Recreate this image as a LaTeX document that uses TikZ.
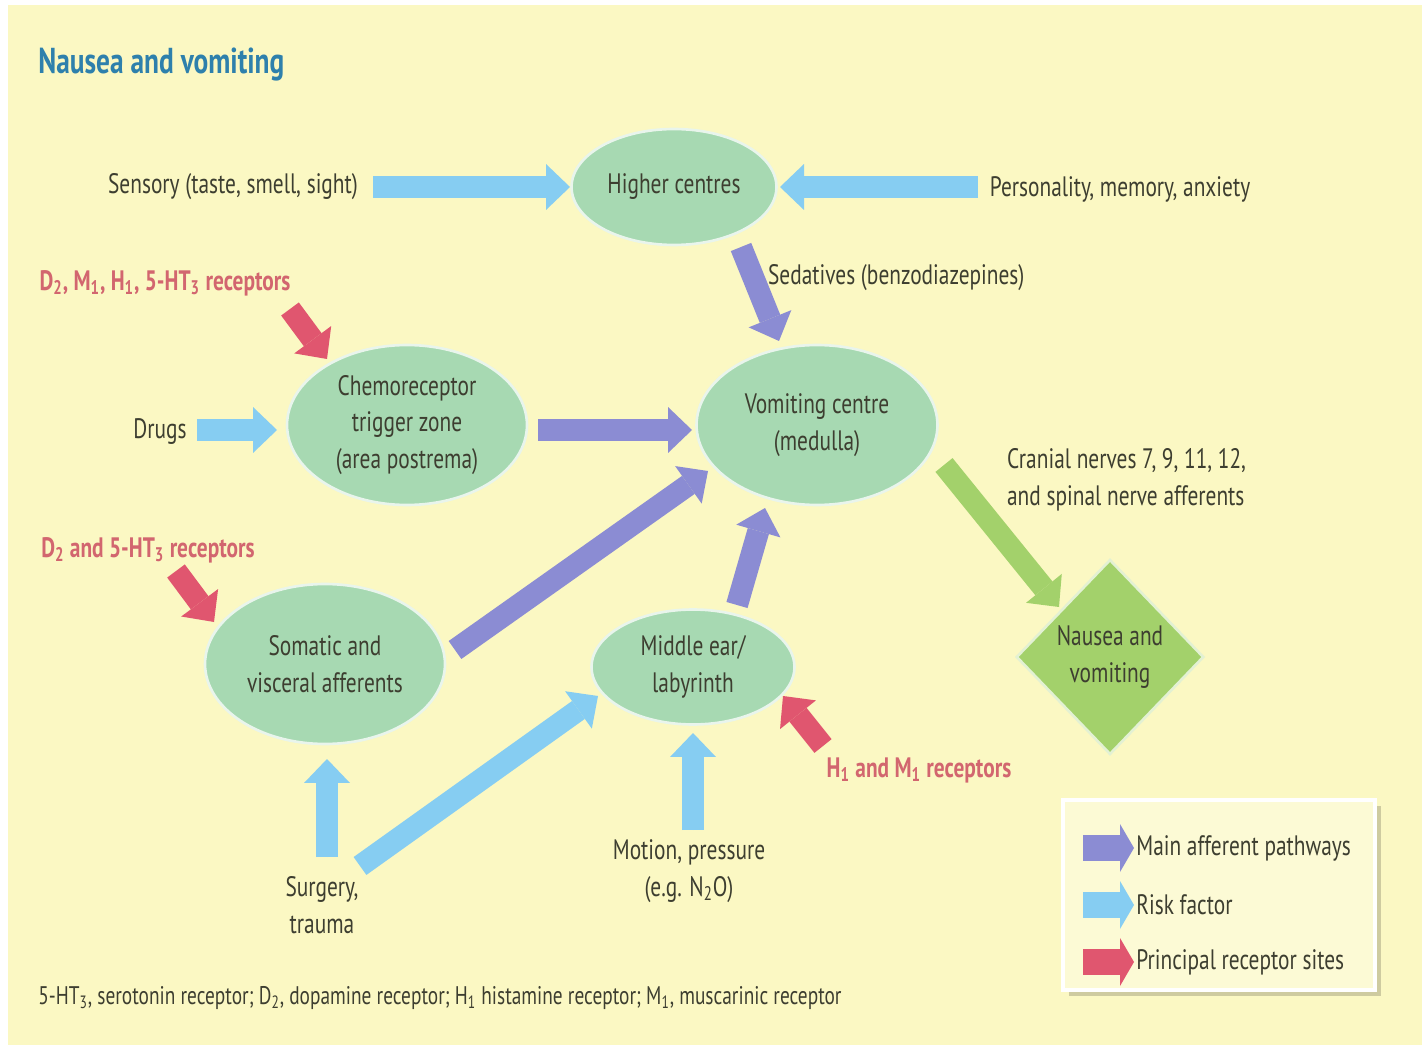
\documentclass[tikz,border=0pt]{standalone}
\usepackage{fontspec}
\setmainfont{PT Sans}[FakeStretch=0.76]
\usetikzlibrary{arrows.meta,shapes.geometric}
\definecolor{bg}{HTML}{FBF8C3}
\definecolor{ellc}{HTML}{A7D9B2}
\definecolor{diac}{HTML}{A3D16B}
\definecolor{purp}{HTML}{8B8CD3}
\definecolor{skyb}{HTML}{86CDF2}
\definecolor{pinkr}{HTML}{E0566F}
\definecolor{txt}{HTML}{3D3E30}
\definecolor{redtxt}{HTML}{D2666F}
\definecolor{ttl}{HTML}{2E80AC}
\tikzset{
  ellnode/.style={ellipse, fill=ellc, draw=white!75!ellc, line width=1.5pt, inner sep=0pt, align=center},
  lbl/.style={align=center, inner sep=1pt},
  redlbl/.style={align=center, inner sep=1pt, text=redtxt, font=\fontsize{16}{20}\selectfont\bfseries},
  fat/.style={line width=0.44cm, -{Triangle[length=0.48cm,width=0.92cm,line width=0pt]}},
  purparrow/.style={fat, draw=purp, fill=purp},
  bluearrow/.style={fat, draw=skyb, fill=skyb},
  redarrow/.style={fat, draw=pinkr, fill=pinkr},
  greenarrow/.style={fat, draw=diac, fill=diac},
  legarrow/.style={line width=0.52cm, -{Triangle[length=0.28cm,width=0.96cm,line width=0pt]}},
}
\begin{document}
\begin{tikzpicture}[x=0.02cm,y=-0.02cm, font=\fontsize{16}{21}\selectfont, text=txt]
\useasboundingbox (0,0) rectangle (1426,1050);
\fill[white] (0,0) rectangle (1426,1050);
\fill[bg] (8,5) rectangle (1422,1045);

% title
\node[anchor=west, text=ttl, font=\fontsize{20.5}{24}\selectfont\bfseries, inner sep=0pt] (title) at (38,65) {Nausea and vomiting};

% main nodes
\node[ellnode, minimum width=4.1cm, minimum height=2.32cm] (hc) at (674,187) {Higher centres};
\node[ellnode, minimum width=4.8cm, minimum height=3.2cm] (ctz) at (407,425) {Chemoreceptor\\trigger zone\\(area postrema)};
\node[ellnode, minimum width=4.82cm, minimum height=3.2cm] (vc) at (817,425) {Vomiting centre\\(medulla)};
\node[ellnode, minimum width=4.8cm, minimum height=3.2cm] (som) at (325,664) {Somatic and\\visceral afferents};
\node[ellnode, minimum width=4.06cm, minimum height=2.3cm] (mer) at (693,667) {Middle ear/\\labyrinth};
\node[diamond, fill=diac, draw=white!70!diac, line width=1.5pt, inner sep=0pt, minimum width=3.75cm, minimum height=3.9cm, align=center] (nv) at (1110,657) {Nausea and\\vomiting};

% labels
\node[lbl] (sens) at (233,187) {Sensory (taste, smell, sight)};
\node[lbl] (pers) at (1120,189) {Personality, memory, anxiety};
\node[redlbl] (rec1) at (165,283) {D\textsubscript{2}, M\textsubscript{1}, H\textsubscript{1}, 5-HT\textsubscript{3} receptors};
\node[lbl, anchor=west] (sed) at (766,278) {Sedatives (benzodiazepines)};
\node[lbl] (drugs) at (160,432) {Drugs};
\node[lbl, anchor=west, align=left] (cran) at (1005,480) {Cranial nerves 7, 9, 11, 12,\\and spinal nerve afferents};
\node[redlbl] (rec2) at (148,550) {D\textsubscript{2} and 5-HT\textsubscript{3} receptors};
\node[redlbl] (rec3) at (919,770) {H\textsubscript{1} and M\textsubscript{1} receptors};
\node[lbl] (motion) at (689,871) {Motion, pressure\\(e.g. N\textsubscript{2}O)};
\node[lbl] (surg) at (322,905) {Surgery,\\trauma};

% footnote
\node[anchor=west, inner sep=0pt, font=\fontsize{14.5}{17}\selectfont] (foot) at (38,998) {5-HT\textsubscript{3}, serotonin receptor; D\textsubscript{2}, dopamine receptor; H\textsubscript{1} histamine receptor; M\textsubscript{1}, muscarinic receptor};

% arrow end coordinates
\coordinate (a1s) at (373,187);  \coordinate (a1e) at (570,187);
\coordinate (a2s) at (978,187);  \coordinate (a2e) at (780,187);
\coordinate (a3s) at (741,247);  \coordinate (a3e) at (779,341);
\coordinate (a4s) at (290,309);  \coordinate (a4e) at (327,359);
\coordinate (a5s) at (197,430);  \coordinate (a5e) at (277,430);
\coordinate (a6s) at (538,430);  \coordinate (a6e) at (692,430);
\coordinate (a7s) at (176,571);  \coordinate (a7e) at (214,622);
\coordinate (a8s) at (455,650);  \coordinate (a8e) at (708,471);
\coordinate (a9s) at (737,605);  \coordinate (a9e) at (765,508);
\coordinate (a10s) at (944,465); \coordinate (a10e) at (1059,607);
\coordinate (a11s) at (823,746); \coordinate (a11e) at (783,696);
\coordinate (a12s) at (327,857); \coordinate (a12e) at (327,759);
\coordinate (a13s) at (360,866); \coordinate (a13e) at (598,696);
\coordinate (a14s) at (693,830); \coordinate (a14e) at (693,733);

\draw[bluearrow] (a1s) -- (a1e);
\draw[bluearrow] (a2s) -- (a2e);
\draw[purparrow] (a3s) -- (a3e);
\draw[redarrow] (a4s) -- (a4e);
\draw[bluearrow] (a5s) -- (a5e);
\draw[purparrow] (a6s) -- (a6e);
\draw[redarrow] (a7s) -- (a7e);
\draw[purparrow] (a8s) -- (a8e);
\draw[purparrow] (a9s) -- (a9e);
\draw[greenarrow] (a10s) -- (a10e);
\draw[redarrow] (a11s) -- (a11e);
\draw[bluearrow] (a12s) -- (a12e);
\draw[bluearrow] (a13s) -- (a13e);
\draw[bluearrow] (a14s) -- (a14e);

% legend
\fill[black!18!bg] (1069,806) rectangle (1381,996);
\draw[white, line width=2.5pt, fill=bg!70!white] (1063,800) rectangle (1375,990);
\coordinate (l1s) at (1083,848); \coordinate (l1e) at (1134,848);
\coordinate (l2s) at (1083,905); \coordinate (l2e) at (1134,905);
\coordinate (l3s) at (1083,962); \coordinate (l3e) at (1134,962);
\draw[legarrow, draw=purp, fill=purp] (l1s) -- (l1e);
\draw[legarrow, draw=skyb, fill=skyb] (l2s) -- (l2e);
\draw[legarrow, draw=pinkr, fill=pinkr] (l3s) -- (l3e);
\node[anchor=west, inner sep=0pt] (lt1) at (1136,848) {Main afferent pathways};
\node[anchor=west, inner sep=0pt] (lt2) at (1136,905) {Risk factor};
\node[anchor=west, inner sep=0pt] (lt3) at (1136,962) {Principal receptor sites};
\end{tikzpicture}
\end{document}
